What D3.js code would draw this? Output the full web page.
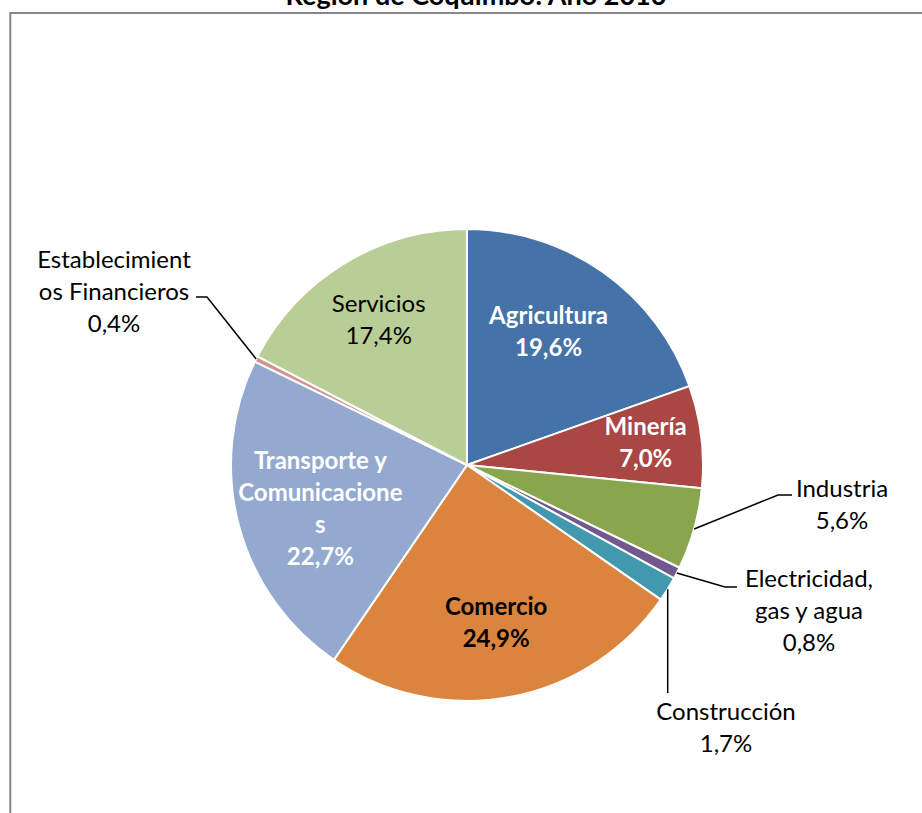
<!DOCTYPE html>
<html>
<head>
<meta charset="utf-8">
<script src="https://cdn.jsdelivr.net/npm/d3@7"></script>
<style>
  html, body { margin: 0; padding: 0; background: #fff; }
  svg { display: block; }
  text { font-family: Lato, "Open Sans", sans-serif; }
</style>
</head>
<body>
<svg id="chart" width="922" height="813"></svg>
<script>
// ---- data ----
const categories = ["Agricultura", "Minería", "Industria", "Electricidad, gas y agua", "Construcción",
                    "Comercio", "Transporte y Comunicaciones", "Establecimientos Financieros", "Servicios"];
const values = [19.6, 7.0, 5.6, 0.8, 1.7, 24.9, 22.7, 0.4, 17.4];
const valueLabels = ["19,6%", "7,0%", "5,6%", "0,8%", "1,7%", "24,9%", "22,7%", "0,4%", "17,4%"];
const labelLines = [
  ["Agricultura"], ["Minería"], ["Industria"], ["Electricidad,", "gas y agua"], ["Construcción"],
  ["Comercio"], ["Transporte y", "Comunicacione", "s"], ["Establecimient", "os Financieros"], ["Servicios"]
];
const colors = ["#4572A7", "#AA4643", "#89A54E", "#71588F", "#4198AF", "#DB843D", "#93A9CF", "#D19392", "#B9CD96"];
const title = "Región de Coquimbo: Año 2010";

// ---- layout ----
const svg = d3.select("#chart");
const cx = 467, cy = 465, R = 236;
const lh = 32;

svg.append("rect").attr("x", 10.3).attr("y", 13).attr("width", 1000).attr("height", 1000)
  .attr("fill", "none").attr("stroke", "#878787").attr("stroke-width", 2);

svg.append("text").attr("x", 476).attr("y", 5).attr("text-anchor", "middle")
  .attr("font-weight", "bold").attr("font-size", 27).attr("fill", "#000").text(title);

const data = categories.map((c, i) => ({ name: c, value: values[i], label: valueLabels[i], lines: labelLines[i], color: colors[i] }));

const pie = d3.pie().value(d => d.value).sort(null);
const arcs = pie(data);
const arc = d3.arc().innerRadius(0).outerRadius(R);

const g = svg.append("g").attr("transform", `translate(${cx},${cy})`);
g.selectAll("path").data(arcs).enter().append("path")
  .attr("d", arc).attr("fill", d => d.data.color)
  .attr("stroke", "#fff").attr("stroke-width", 2).attr("stroke-linejoin", "round");

// inside labels: label radius / angle nudge per slice (layout), style
const inside = {
  "Agricultura": { r: 156, da: -0.065, bold: true, fill: "#fff" },
  "Minería": { r: 180, da: 0, bold: true, fill: "#fff" },
  "Comercio": { r: 161, da: 0, bold: true, fill: "#000" },
  "Transporte y Comunicaciones": { r: 153, da: -0.03, bold: true, fill: "#fff" },
  "Servicios": { r: 170, da: 0, bold: false, fill: "#000" }
};
const fs = 24;
arcs.forEach(a => {
  const cfg = inside[a.data.name];
  if (!cfg) return;
  const mid = (a.startAngle + a.endAngle) / 2 + cfg.da;
  const x = Math.sin(mid) * cfg.r, y = -Math.cos(mid) * cfg.r;
  const lines = a.data.lines.concat([a.data.label]);
  const t = g.append("text").attr("text-anchor", "middle")
    .attr("font-size", fs).attr("font-weight", cfg.bold ? "bold" : "normal").attr("fill", cfg.fill);
  const y0 = y - (lines.length - 1) * lh / 2 + 8;
  lines.forEach((l, i) => t.append("tspan").attr("x", x).attr("y", y0 + i * lh).text(l));
});

// outside labels with leader lines (elbow offsets and text anchors are layout)
const outside = {
  "Industria": { elbow: [778, 495], end: [792, 495], tx: 842, ty: 497 },
  "Electricidad, gas y agua": { elbow: [725, 587], end: [737, 587], tx: 809, ty: 587 },
  "Construcción": { elbow: null, end: [667, 693], tx: 726, ty: 720 },
  "Establecimientos Financieros": { elbow: [207, 297], end: [196, 297], tx: 114, ty: 268 }
};
arcs.forEach(a => {
  const cfg = outside[a.data.name];
  if (!cfg) return;
  const mid = (a.startAngle + a.endAngle) / 2;
  const px = cx + Math.sin(mid) * R, py = cy - Math.cos(mid) * R;
  const pts = [[px, py]];
  if (cfg.elbow) { pts.push(cfg.elbow); pts.push(cfg.end); }
  else pts.push([px, cfg.end[1]]);
  svg.append("path").attr("d", d3.line()(pts)).attr("fill", "none")
    .attr("stroke", "#000").attr("stroke-width", 1.5);
  const lines = a.data.lines.concat([a.data.label]);
  const t = svg.append("text").attr("text-anchor", "middle").attr("font-size", fs).attr("fill", "#000");
  lines.forEach((l, i) => t.append("tspan").attr("x", cfg.tx).attr("y", cfg.ty + i * lh).text(l));
});
</script>
</body>
</html>
